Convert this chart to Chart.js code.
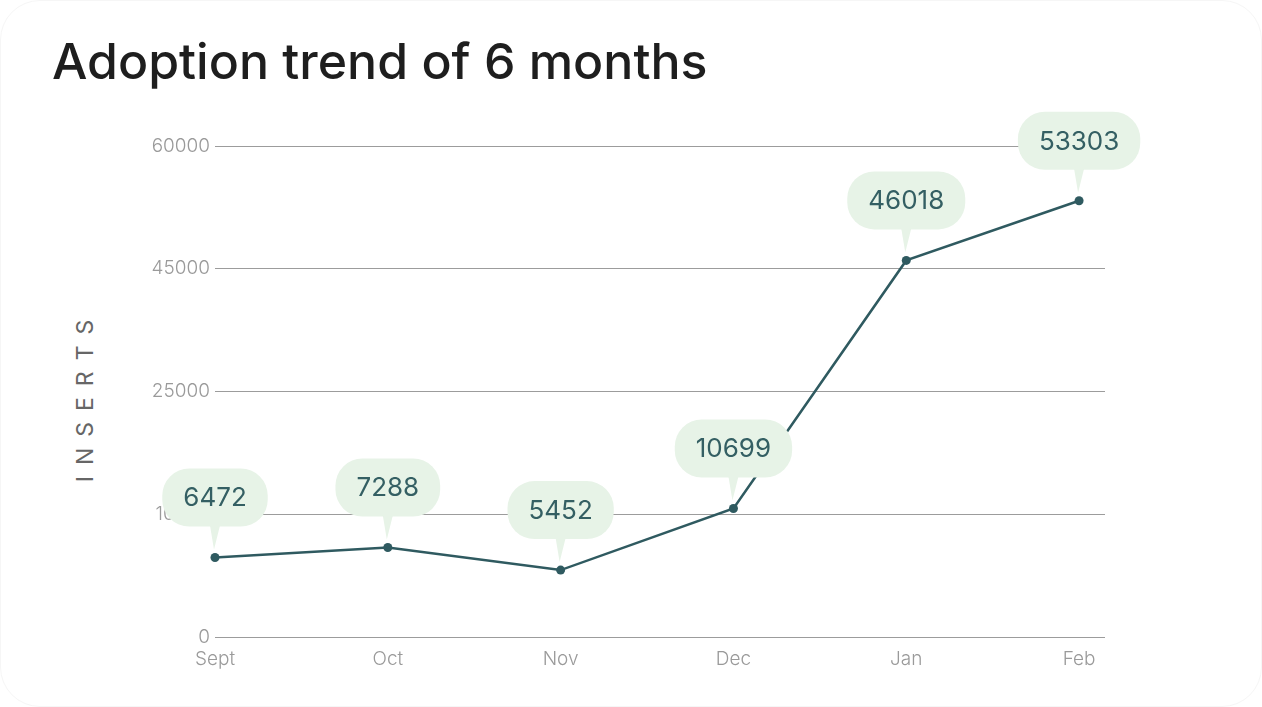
<!DOCTYPE html>
<html>
<head>
<meta charset="utf-8">
<title>Adoption trend of 6 months</title>
<script src="https://cdn.jsdelivr.net/npm/chart.js@4/dist/chart.umd.min.js"></script>
<style>
  html, body { margin: 0; padding: 0; background: #fff; }
  .card {
    position: relative;
    width: 1262px;
    height: 707px;
    box-sizing: border-box;
    border: 1px solid #f6f6f6;
    border-radius: 40px;
    overflow: hidden;
    font-family: Inter, "Open Sans", sans-serif;
  }
  .card h1 {
    position: absolute;
    left: 51px;
    top: 30px;
    margin: 0;
    font-size: 50px;
    line-height: 1.21;
    font-weight: 500;
    color: #1e1e1e;
    white-space: nowrap;
  }
  .y-title {
    position: absolute;
    left: 84px;
    top: 400px;
    transform: translate(-50%, -50%) rotate(-90deg);
    font-size: 23px;
    font-weight: 400;
    color: #666;
    letter-spacing: 11px;
    padding-left: 11px;
    white-space: nowrap;
  }
  .chart-box { position: absolute; left: 0; top: 0; width: 1262px; height: 707px; }
</style>
</head>
<body>
<div class="card">
  <h1>Adoption trend of 6 months</h1>
  <div class="y-title">INSERTS</div>
  <div class="chart-box"><canvas id="trend"></canvas></div>
</div>

<script>
// 📅 data
const months = ["Sept", "Oct", "Nov", "Dec", "Jan", "Feb"];
const insertValues = [6472, 7288, 5452, 10699, 46018, 53303];
const yTickValues = [0, 10000, 25000, 45000, 60000];

const lineColor = "#2f5a60";
const bubbleFill = "#e7f3e7";

// the y ticks are evenly spaced although their values are not,
// so each value is placed between the two ticks around it
const toLevel = (v) => {
  for (let i = 0; i < yTickValues.length - 1; i++) {
    const a = yTickValues[i];
    const b = yTickValues[i + 1];
    if (v <= b) return i + (v - a) / (b - a);
  }
  return yTickValues.length - 1;
};

// 💬 value bubbles above every point
const bubblePlugin = {
  id: "valueBubbles",
  afterDatasetsDraw(chart) {
    const ctx = chart.ctx;
    const meta = chart.getDatasetMeta(0);
    ctx.save();
    ctx.font = "400 26px Inter, 'Open Sans', sans-serif";
    ctx.textAlign = "center";
    ctx.textBaseline = "middle";
    meta.data.forEach((pt, i) => {
      const text = String(insertValues[i]);
      const w = ctx.measureText(text).width + 42;
      const h = 58;
      const bottom = pt.y - 31;
      ctx.fillStyle = bubbleFill;
      ctx.beginPath();
      ctx.roundRect(pt.x - w / 2, bottom - h, w, h, 27);
      ctx.fill();
      ctx.beginPath();
      ctx.moveTo(pt.x - 5, bottom - 1);
      ctx.lineTo(pt.x + 5, bottom - 1);
      ctx.lineTo(pt.x - 1, pt.y - 8);
      ctx.closePath();
      ctx.fill();
      ctx.fillStyle = "#345f63";
      ctx.fillText(text, pt.x, bottom - h / 2 + 1);
    });
    ctx.restore();
  },
};

const tickFont = { family: "Inter, 'Open Sans', sans-serif", size: 19, weight: 300 };

new Chart(document.getElementById("trend"), {
  type: "line",
  data: {
    datasets: [
      {
        label: "Inserts",
        data: insertValues.map((v, i) => ({ x: i, y: toLevel(v) })),
        borderColor: lineColor,
        backgroundColor: lineColor,
        borderWidth: 2.5,
        tension: 0,
        pointRadius: 4.5,
        pointBorderWidth: 0,
        pointBackgroundColor: lineColor,
        clip: false,
      },
    ],
  },
  options: {
    responsive: true,
    maintainAspectRatio: false,
    animation: false,
    layout: { padding: { top: 145, right: 158, left: 0, bottom: 0 } },
    plugins: {
      legend: { display: false },
      tooltip: { enabled: false },
    },
    scales: {
      x: {
        type: "linear",
        min: 0,
        max: 5.15,
        grid: { display: false },
        border: { display: false },
        afterBuildTicks: (scale) => {
          scale.ticks = months.map((m, i) => ({ value: i }));
        },
        afterFit: (scale) => {
          scale.height = 71;
        },
        ticks: {
          autoSkip: false,
          maxRotation: 0,
          padding: 3,
          color: "#9a9a9a",
          font: tickFont,
          callback: (v, i) => months[i],
        },
      },
      y: {
        type: "linear",
        min: 0,
        max: yTickValues.length - 1,
        grid: { color: "#9c9c9c", lineWidth: 1, drawTicks: false },
        border: { display: false },
        afterBuildTicks: (scale) => {
          scale.ticks = yTickValues.map((t, i) => ({ value: i }));
        },
        afterFit: (scale) => {
          scale.width = 214;
        },
        ticks: {
          padding: 5,
          color: "#9a9a9a",
          font: tickFont,
          callback: (v, i) => String(yTickValues[i]),
        },
      },
    },
  },
  plugins: [bubblePlugin],
});
</script>
</body>
</html>
